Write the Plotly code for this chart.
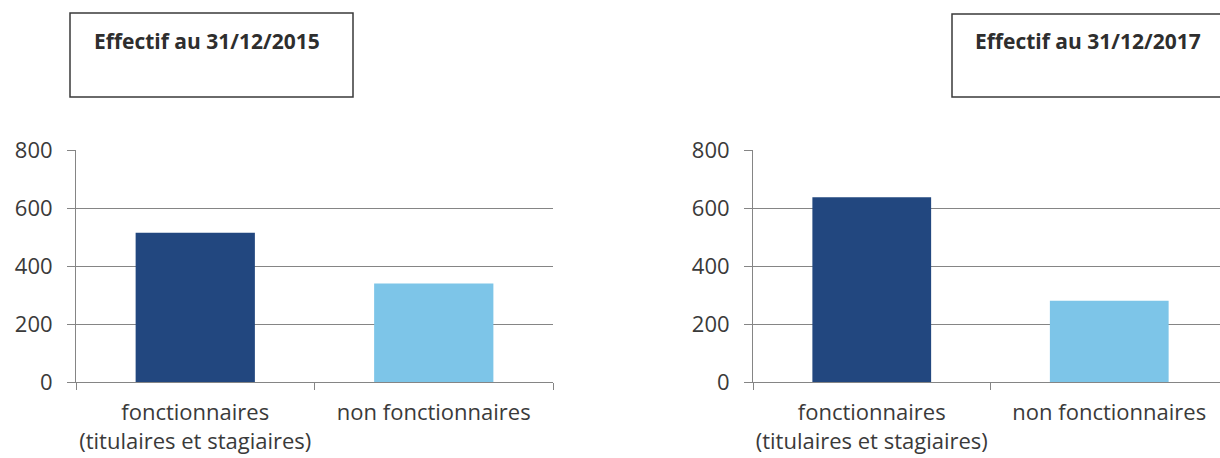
import plotly.graph_objects as go

# Effectifs par statut, deux dates
categories = ["fonctionnaires<br>(titulaires et stagiaires)", "non fonctionnaires"]
effectif_2015 = [515, 340]
effectif_2017 = [637, 280]
titles = ["Effectif au 31/12/2015", "Effectif au 31/12/2017"]
y_ticks = [0, 200, 400, 600, 800]

W, H = 1220, 458
bar_colors = ["#22477f", "#7dc5e8"]
grid = "#858585"
text_col = "#3a3a3a"
font_family = "Open Sans, Noto Sans, sans-serif"


def px_x(v):
    return v / W


def px_y(v):
    return 1 - v / H


fig = go.Figure()
fig.add_trace(go.Bar(x=categories, y=effectif_2015, marker=dict(color=bar_colors, line=dict(width=0)),
                     xaxis="x", yaxis="y", showlegend=False))
fig.add_trace(go.Bar(x=categories, y=effectif_2017, marker=dict(color=bar_colors, line=dict(width=0)),
                     xaxis="x2", yaxis="y2", showlegend=False))

ydom = [px_y(382), px_y(150)]
common_x = dict(type="category", showgrid=False, showline=True, linecolor=grid, linewidth=1,
                ticks="outside", tickson="boundaries", ticklen=7, tickcolor=grid, tickangle=0,
                tickfont=dict(family=font_family, size=22, color=text_col), ticklabelstandoff=11,
                zeroline=False, automargin=False)
common_y = dict(range=[0, 800], tickvals=y_ticks, showgrid=True, gridcolor=grid, gridwidth=1,
                showline=True, linecolor=grid, linewidth=1, ticks="outside", ticklen=8, tickcolor=grid,
                tickfont=dict(family=font_family, size=22, color=text_col), ticklabelstandoff=10,
                zeroline=False, automargin=False)

fig.update_layout(
    width=W, height=H, margin=dict(l=0, r=0, t=0, b=0, pad=0, autoexpand=False),
    paper_bgcolor="white", plot_bgcolor="white", bargap=0.5,
    xaxis=dict(domain=[px_x(76), px_x(553)], range=[-0.5, 1.5], anchor="y", **common_x),
    yaxis=dict(domain=ydom, anchor="x", **common_y),
    xaxis2=dict(domain=[px_x(753), 1.0], range=[-0.5, -0.5 + (W - 753) / 237.5], anchor="y2", **common_x),
    yaxis2=dict(domain=ydom, anchor="x2", **common_y),
)

# Cadres de titre
boxes = [(70, 13, 353, 97), (952, 14, 1226, 97)]
text_left = [92, 973]
for (x0, y0, x1, y1), tx, title in zip(boxes, text_left, titles):
    fig.add_shape(type="rect", xref="paper", yref="paper",
                  x0=px_x(x0), x1=px_x(x1), y0=px_y(y1), y1=px_y(y0),
                  line=dict(color="#3a3a3a", width=1.5), fillcolor="rgba(0,0,0,0)")
    fig.add_annotation(xref="paper", yref="paper", x=px_x(tx), y=px_y(41),
                       xanchor="left", yanchor="middle", showarrow=False,
                       text="<b>" + title + "</b>",
                       font=dict(family=font_family, size=21, color="#2e2e2e"))

fig.write_html("out.html")
